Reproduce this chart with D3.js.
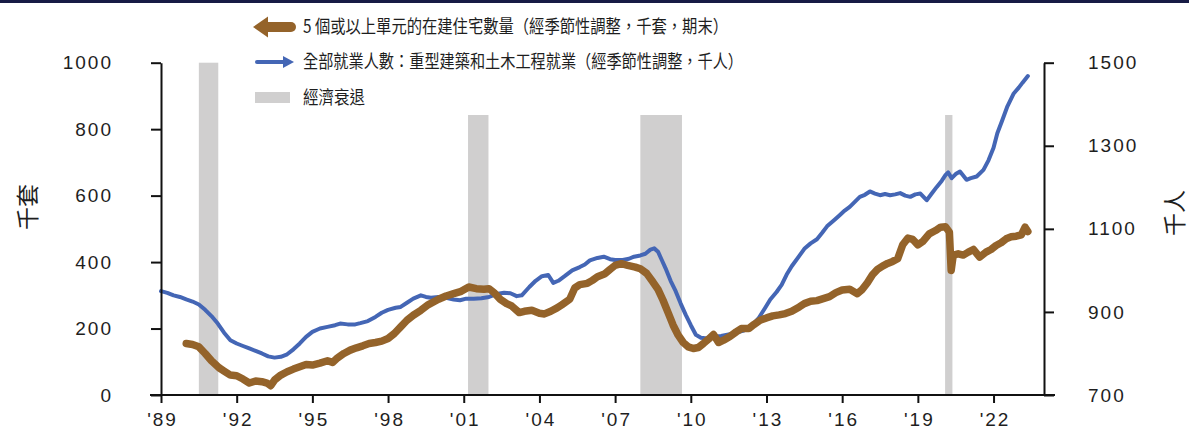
<!DOCTYPE html>
<html>
<head>
<meta charset="utf-8">
<script src="https://cdn.jsdelivr.net/npm/d3@7"></script>
<style>
  body { margin: 0; background: #fff; }
  svg text { font-family: "Liberation Sans", Arial, sans-serif; fill: #1e1e1e; }
  svg text.cjk { font-family: "Noto Sans CJK TC", "Noto Sans CJK SC", sans-serif; }
</style>
</head>
<body>
<svg id="chart" width="1189" height="432"></svg>
<script>
// units under construction, 5+ units (thousands, left axis)
var unitsYears = [1990.0, 1990.25, 1990.5, 1990.75, 1991.0, 1991.3, 1991.5, 1991.75, 1992.0, 1992.25, 1992.5, 1992.75,
  1993.0, 1993.2, 1993.35, 1993.5, 1993.75, 1994.0, 1994.25, 1994.5, 1994.75, 1995.0, 1995.3, 1995.6, 1995.8,
  1996.0, 1996.25, 1996.5, 1996.75, 1997.0, 1997.25, 1997.5, 1997.75, 1998.0, 1998.25, 1998.5, 1998.75,
  1999.0, 1999.3, 1999.6, 2000.0, 2000.3, 2000.6, 2000.9, 2001.2, 2001.5, 2001.8, 2002.0, 2002.2, 2002.45,
  2002.7, 2002.9, 2003.2, 2003.4, 2003.7, 2004.0, 2004.2, 2004.45, 2004.7, 2004.9, 2005.2, 2005.4, 2005.6,
  2005.9, 2006.1, 2006.3, 2006.6, 2006.8, 2007.0, 2007.25, 2007.5, 2007.8, 2008.0, 2008.25, 2008.5, 2008.7,
  2008.9, 2009.1, 2009.3, 2009.5, 2009.7, 2009.9, 2010.1, 2010.3, 2010.5, 2010.7, 2010.9, 2011.1, 2011.3,
  2011.55, 2011.8, 2012.0, 2012.3, 2012.5, 2012.75, 2013.0, 2013.25, 2013.5, 2013.75, 2014.0, 2014.3, 2014.5,
  2014.75, 2015.0, 2015.25, 2015.5, 2015.75, 2016.0, 2016.3, 2016.6, 2016.8, 2017.0, 2017.2, 2017.4, 2017.6,
  2017.8, 2018.0, 2018.2, 2018.4, 2018.6, 2018.8, 2019.0, 2019.2, 2019.45, 2019.7, 2019.9, 2020.1, 2020.25,
  2020.32, 2020.4, 2020.6, 2020.8, 2021.0, 2021.2, 2021.45, 2021.7, 2021.9, 2022.1, 2022.3, 2022.5, 2022.7,
  2022.9, 2023.1, 2023.25, 2023.36];
var unitsValues = [155, 152, 145, 125, 103, 82, 72, 60, 58, 48, 36, 42,
  40, 36, 28, 45, 60, 70, 78, 85, 92, 90, 96, 103, 98,
  112, 125, 135, 142, 148, 155, 158, 162, 170, 185, 205, 225,
  240, 255, 272, 288, 298, 305, 312, 325, 320, 318, 320, 308, 288,
  275, 268, 248, 252, 255, 246, 244, 252, 262, 272, 288, 322, 332,
  336, 345, 356, 365, 378, 390, 395, 390, 385, 380, 366, 340, 318,
  285, 248, 210, 180, 158, 145, 140, 143, 155, 168, 182, 158, 165,
  176, 190, 200, 200, 212, 225, 232, 238, 241, 245, 252, 265, 275,
  282, 284, 290, 296, 308, 316, 318, 305, 318, 338, 362, 378, 388,
  396, 402, 410, 452, 472, 468, 452, 462, 485, 495, 505, 506, 490,
  375, 420, 425, 421, 430, 438, 415, 430, 438, 450, 458, 470, 476,
  478, 482, 505, 492];

// heavy and civil engineering employment (thousands, right axis)
var jobsYears = [1989.0, 1989.25, 1989.5, 1989.75, 1990.0, 1990.25, 1990.5, 1990.75, 1991.0, 1991.25, 1991.5, 1991.75,
  1992.0, 1992.25, 1992.5, 1992.75, 1993.0, 1993.25, 1993.5, 1993.75, 1994.0, 1994.25, 1994.5, 1994.75,
  1995.0, 1995.3, 1995.6, 1995.9, 1996.1, 1996.4, 1996.7, 1996.9, 1997.2, 1997.5, 1997.75, 1998.0, 1998.3,
  1998.5, 1998.75, 1999.0, 1999.3, 1999.5, 1999.7, 2000.0, 2000.3, 2000.6, 2000.85, 2001.1, 2001.4, 2001.7,
  2002.0, 2002.3, 2002.6, 2002.85, 2003.1, 2003.3, 2003.6, 2003.85, 2004.1, 2004.35, 2004.55, 2004.75,
  2005.0, 2005.3, 2005.6, 2005.8, 2006.0, 2006.3, 2006.55, 2006.8, 2007.0, 2007.3, 2007.55, 2007.75, 2008.0,
  2008.2, 2008.4, 2008.55, 2008.7, 2008.85, 2009.0, 2009.2, 2009.4, 2009.6, 2009.8, 2010.0, 2010.2, 2010.4,
  2010.65, 2010.9, 2011.2, 2011.5, 2011.8, 2012.1, 2012.4, 2012.7, 2012.95, 2013.15, 2013.4, 2013.6, 2013.8,
  2014.0, 2014.3, 2014.5, 2014.75, 2015.0, 2015.2, 2015.4, 2015.7, 2015.9, 2016.1, 2016.3, 2016.5, 2016.7,
  2016.9, 2017.1, 2017.3, 2017.5, 2017.7, 2017.9, 2018.1, 2018.3, 2018.5, 2018.7, 2018.9, 2019.1, 2019.35,
  2019.55, 2019.75, 2019.95, 2020.1, 2020.2, 2020.34, 2020.5, 2020.67, 2020.93, 2021.1, 2021.33, 2021.6,
  2021.8, 2022.0, 2022.15, 2022.35, 2022.55, 2022.8, 2023.0, 2023.15, 2023.36];
var jobsValues = [950, 946, 940, 936, 930, 925, 918, 905, 890, 872, 850, 832,
  824, 818, 812, 806, 800, 793, 790, 792, 798, 810, 824, 840,
  852, 860, 864, 868, 872, 870, 870, 873, 878, 888, 898, 905, 910,
  912, 922, 932, 940, 936, 934, 936, 934, 930, 928, 932, 932, 933,
  936, 943, 946, 945, 938, 940, 960, 975, 986, 989, 970, 975,
  986, 1000, 1008, 1014, 1024, 1030, 1033, 1027, 1025, 1025, 1028, 1033, 1036,
  1040, 1050, 1053, 1045, 1025, 1005, 975, 950, 920, 893, 868, 845, 838,
  836, 840, 842, 846, 850, 855, 866, 886, 910, 930, 948, 965, 990,
  1010, 1035, 1052, 1065, 1075, 1090, 1106, 1122, 1133, 1144, 1153, 1165, 1177,
  1182, 1190, 1185, 1181, 1184, 1181, 1183, 1186, 1180, 1177, 1183, 1185, 1169,
  1185, 1201, 1216, 1230, 1236, 1222, 1232, 1238, 1218, 1222, 1226, 1242,
  1265, 1295, 1330, 1362, 1395, 1426, 1440, 1452, 1468];

// recessions (shaded)
var recessionStarts = [1990.5, 2001.17, 2008.0, 2020.08];
var recessionEnds = [1991.27, 2001.98, 2009.65, 2020.37];

var xTicks = d3.range(1989, 2023, 3);
var leftTicks = [0, 200, 400, 600, 800, 1000];
var rightTicks = [700, 900, 1100, 1300, 1500];

var legendLabels = [
  "5 個或以上單元的在建住宅數量（經季節性調整，千套，期末）",
  "全部就業人數：重型建築和土木工程就業（經季節性調整，千人）",
  "經濟衰退"
];

var brown = "#94632a", blue = "#4466b5", grey = "#d0cfcf";

var svg = d3.select("#chart");
var plotLeft = 161, plotRight = 1044, plotTop = 62.7, plotBottom = 395;

var x = d3.scaleLinear().domain([1989, 2024]).range([plotLeft, plotRight]);
var yL = d3.scaleLinear().domain([0, 1000]).range([plotBottom, plotTop]);
var yR = d3.scaleLinear().domain([700, 1500]).range([plotBottom, plotTop]);

// top border
svg.append("rect").attr("x", 0).attr("y", 0).attr("width", 1189).attr("height", 3).attr("fill", "#171b45");

// recession bars
svg.append("g").selectAll("rect")
    .data(recessionStarts)
  .enter().append("rect")
    .attr("x", function (d) { return x(d); })
    .attr("width", function (d, i) { return x(recessionEnds[i]) - x(d); })
    .attr("y", plotTop)
    .attr("height", plotBottom - plotTop)
    .attr("fill", grey);

// legend background hides the top of the bars
svg.append("rect").attr("x", 240).attr("y", 4).attr("width", 750).attr("height", 111).attr("fill", "#fff");

var jobsLine = d3.line()
    .x(function (d, i) { return x(jobsYears[i]); })
    .y(function (d) { return yR(d); });
var unitsLine = d3.line()
    .x(function (d, i) { return x(unitsYears[i]); })
    .y(function (d) { return yL(d); });

svg.append("path")
    .datum(jobsValues)
    .attr("d", jobsLine)
    .attr("fill", "none")
    .attr("stroke", blue)
    .attr("stroke-width", 4)
    .attr("stroke-linejoin", "round")
    .attr("stroke-linecap", "round");

svg.append("path")
    .datum(unitsValues)
    .attr("d", unitsLine)
    .attr("fill", "none")
    .attr("stroke", brown)
    .attr("stroke-width", 7.5)
    .attr("stroke-linejoin", "round")
    .attr("stroke-linecap", "round");

// axes
var leftAxis = svg.append("g")
    .attr("transform", "translate(" + plotLeft + ",0)")
    .call(d3.axisLeft(yL).tickValues(leftTicks).tickSize(10).tickSizeOuter(0).tickPadding(38)
      .tickFormat(d3.format("d")));
var rightAxis = svg.append("g")
    .attr("transform", "translate(" + plotRight + ",0)")
    .call(d3.axisRight(yR).tickValues(rightTicks).tickSize(10).tickSizeOuter(0).tickPadding(34)
      .tickFormat(d3.format("d")));
var bottomAxis = svg.append("g")
    .attr("transform", "translate(0," + plotBottom + ")")
    .call(d3.axisBottom(x).tickValues(xTicks).tickSize(8).tickSizeOuter(0).tickPadding(10)
      .tickFormat(function (d) { return "'" + String(d).slice(2); }));

[leftAxis, rightAxis, bottomAxis].forEach(function (g) {
  g.selectAll("path.domain").attr("stroke", "#111").attr("stroke-width", 2);
  g.selectAll(".tick line").attr("stroke", "#111").attr("stroke-width", 2);
  g.selectAll(".tick text")
      .attr("font-family", null)
      .attr("font-size", null)
      .style("font-size", "19px")
      .style("letter-spacing", "2px");
});
bottomAxis.selectAll(".tick text").attr("dx", "1px");
bottomAxis.select("path.domain").attr("d", "M" + (plotLeft - 11) + ",0H" + (plotRight + 11));

// axis titles
svg.append("text")
    .attr("class", "cjk")
    .attr("transform", "translate(36,207) rotate(-90)")
    .attr("text-anchor", "middle")
    .style("font-size", "23px")
    .text("千套");
svg.append("text")
    .attr("class", "cjk")
    .attr("transform", "translate(1183,213) rotate(-90)")
    .attr("text-anchor", "middle")
    .style("font-size", "23px")
    .text("千人");

// legend
var legend = svg.append("g");
legend.append("path")
    .attr("d", "M253,27L268,16.5L268,37.5Z")
    .attr("fill", brown);
legend.append("line")
    .attr("x1", 265).attr("x2", 291).attr("y1", 27).attr("y2", 27)
    .attr("stroke", brown).attr("stroke-width", 10).attr("stroke-linecap", "round");
legend.append("line")
    .attr("x1", 257).attr("x2", 285).attr("y1", 62).attr("y2", 62)
    .attr("stroke", blue).attr("stroke-width", 4).attr("stroke-linecap", "round");
legend.append("path")
    .attr("d", "M294,62L283,56L283,68Z")
    .attr("fill", blue);
legend.append("rect")
    .attr("x", 255).attr("y", 92).attr("width", 35).attr("height", 11)
    .attr("fill", grey);

var legendY = [27, 62, 98];
var legendW = [425, 440, 62];
legend.selectAll("text")
    .data(legendLabels)
  .enter().append("text")
    .attr("class", "cjk")
    .attr("x", 303)
    .attr("y", function (d, i) { return legendY[i]; })
    .attr("dy", "0.35em")
    .attr("textLength", function (d, i) { return legendW[i]; })
    .attr("lengthAdjust", "spacingAndGlyphs")
    .style("font-size", "18px")
    .text(function (d) { return d; });
</script>
</body>
</html>
